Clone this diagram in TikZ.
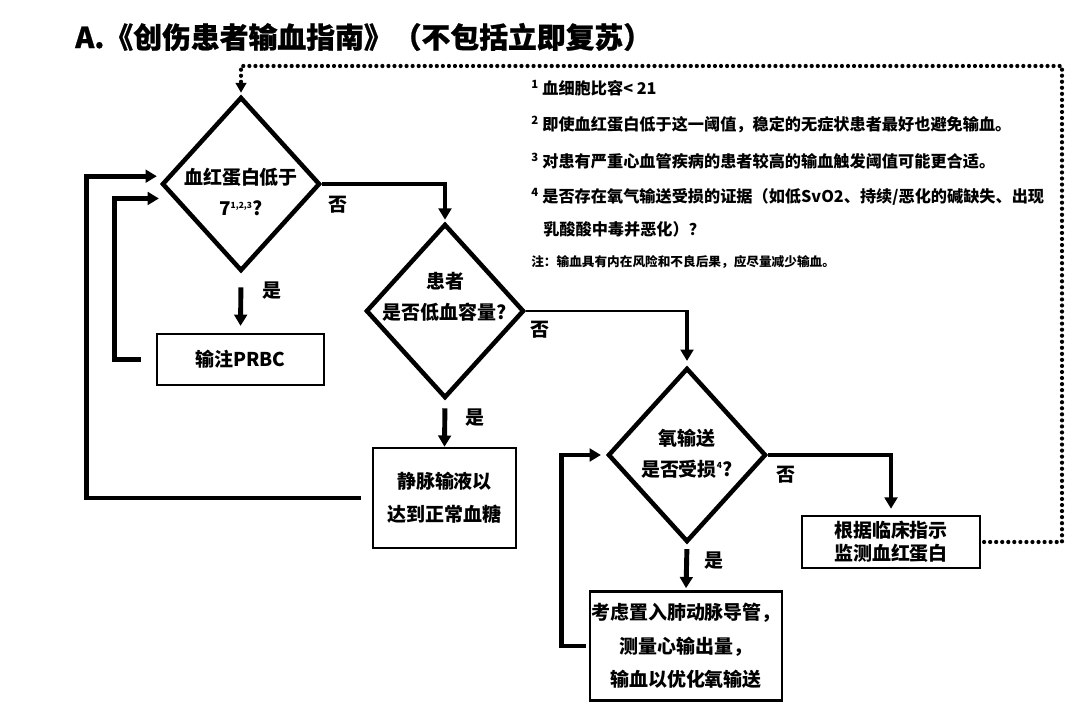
\documentclass[tikz,border=0pt]{standalone}
\usepackage{fontspec}
\setmainfont{Noto Sans CJK SC}
\newfontfamily\titlefont{Noto Sans CJK SC}[BoldFeatures={FakeBold=0.8}]
\usetikzlibrary{arrows.meta,shapes.geometric,positioning}
\definecolor{myblack}{HTML}{000000}
\definecolor{mywhite}{HTML}{FFFFFF}

% one line of a diamond, raised by #1 without changing its box
\newcommand{\dline}[2]{\makebox[0pt]{\raisebox{#1}[0.8em][0.2em]{#2}}}
\newcommand{\fn}[1]{\textsuperscript{#1}\hspace{2.5pt}}
\newcommand{\tinysup}[1]{\textsuperscript{\fontsize{6}{6}\selectfont #1}}

\tikzset{
  decision/.style={diamond, draw=myblack, line width=3.2pt, minimum width=3.95cm, minimum height=4.35cm, inner sep=0pt, align=center, font=\bfseries\fontsize{13.5}{22}\selectfont},
  process/.style={rectangle, draw=myblack, line width=1.8pt, inner sep=0pt, align=center, font=\bfseries\fontsize{13.5}{23.5}\selectfont},
  flow/.style={myblack, line width=3.5pt, -{Triangle[length=8pt, width=9pt]}},
  answer/.style={inner sep=0pt, font=\bfseries\fontsize{13.5}{16}\selectfont},
  note/.style={anchor=west, inner sep=0pt, font=\bfseries\fontsize{11.5}{14}\selectfont},
  dotline/.style={myblack, line width=3pt, line cap=round, dash pattern=on 0pt off 4.3pt},
}

\begin{document}
\begin{tikzpicture}[x=0.025cm, y=-0.025cm]

\useasboundingbox[fill=mywhite] (0,0) rectangle (1080,715);

% TITLE
\node[anchor=west, inner sep=0pt, font=\titlefont\bfseries\fontsize{20.5}{25}\selectfont] (title) at (75,37) {A.《创伤患者输血指南》（不包括立即复苏）};

% NOTES
\node[note] (note1) at (531,88) {\fn{1}血细胞比容< 21};
\node[note] (note2) at (531,125) {\fn{2}即使血红蛋白低于这一阈值，稳定的无症状患者最好也避免输血。};
\node[note] (note3) at (531,161) {\fn{3}对患有严重心血管疾病的患者较高的输血触发阈值可能更合适。};
\node[note] (note4) at (531,197) {\fn{4}是否存在氧气输送受损的证据（如低SvO2、持续/恶化的碱缺失、出现};
\node[note] (note5) at (543,229) {乳酸酸中毒并恶化）？};
\node[note, font=\bfseries\fontsize{9}{11}\selectfont] (note6) at (531,262) {注：输血具有内在风险和不良后果，应尽量减少输血。};

% DECISIONS
\node[decision] (hb) at (241,184) {\dline{-7.5pt}{血红蛋白低于}\\\dline{-7.5pt}{7\tinysup{1,2,3}?}};
\node[decision] (vol) at (445,311) {\dline{9pt}{患者}\\\dline{9pt}{是否低血容量?}};
\node[decision] (oxy) at (687,455) {\dline{0pt}{氧输送}\\\dline{0pt}{是否受损\tinysup{4}?}};

% ACTIONS
\node[process, minimum width=4.175cm, minimum height=1.275cm] (prbc) at (240.5,359.5) {输注PRBC};
\node[process, minimum width=3.575cm, minimum height=2.5cm] (fluid) at (444.5,498) {静脉输液以\\达到正常血糖};
\node[process, minimum width=4.45cm, minimum height=1.3cm, font=\bfseries\fontsize{13.5}{16.5}\selectfont] (monitor) at (891,542) {根据临床指示\\监测血红蛋白};
\node[process, minimum width=4.8cm, minimum height=2.725cm, font=\bfseries\fontsize{13.5}{24}\selectfont] (pac) at (686,646) {考虑置入肺动脉导管，\\测量心输出量，\\输血以优化氧输送};

% ANSWERS
\node[answer] (no1) at (338,205) {否};
\node[answer] (yes1) at (272,291) {是};
\node[answer] (no2) at (540,330) {否};
\node[answer] (yes2) at (475,418) {是};
\node[answer] (no3) at (786,475) {否};
\node[answer] (yes3) at (714,561) {是};

% ARROWS
\draw[flow, shorten >=0.05cm] (hb.east) -| (vol.north);
\draw[flow, shorten <=0.35cm, shorten >=0.17cm] (hb.south) -- (prbc.north);
\draw[flow, shorten <=0.2cm] (vol.south) -- (fluid.north);
\draw[flow, shorten <=0.12cm, shorten >=0.05cm] (oxy.south) -- (pac.north);

\coordinate (volturn) at (oxy.north |- vol.east);
\draw[myblack, line width=1.4pt] (vol.east) -- (volturn);
\draw[flow, shorten >=0.12cm] ([yshift=0.7pt]volturn) -- (oxy.north);

\draw[flow, shorten >=0.15cm] (oxy.east) -| (monitor.north);

% LOOPS BACK
\draw[flow, shorten <=0.375cm, shorten >=0.35cm] (prbc.west) -- ++(-41,0) |- (hb.192);
\draw[flow, shorten <=0.275cm, shorten >=0.25cm] (fluid.west) -- ++(-285,0) |- (hb.174);
\draw[flow, shorten <=0.07cm, shorten >=0.12cm] (pac.west) -- ++(-27,0) |- (oxy.west);

% MONITOR LOOP (DOTTED)
\coordinate (dotcorner) at (1062,66);
\draw[dotline, -{Triangle[length=7pt, width=7.5pt]}, shorten <=0.07cm, shorten >=0.05cm] (monitor.east) -| (dotcorner) -| (hb.north);

\end{tikzpicture}
\end{document}
